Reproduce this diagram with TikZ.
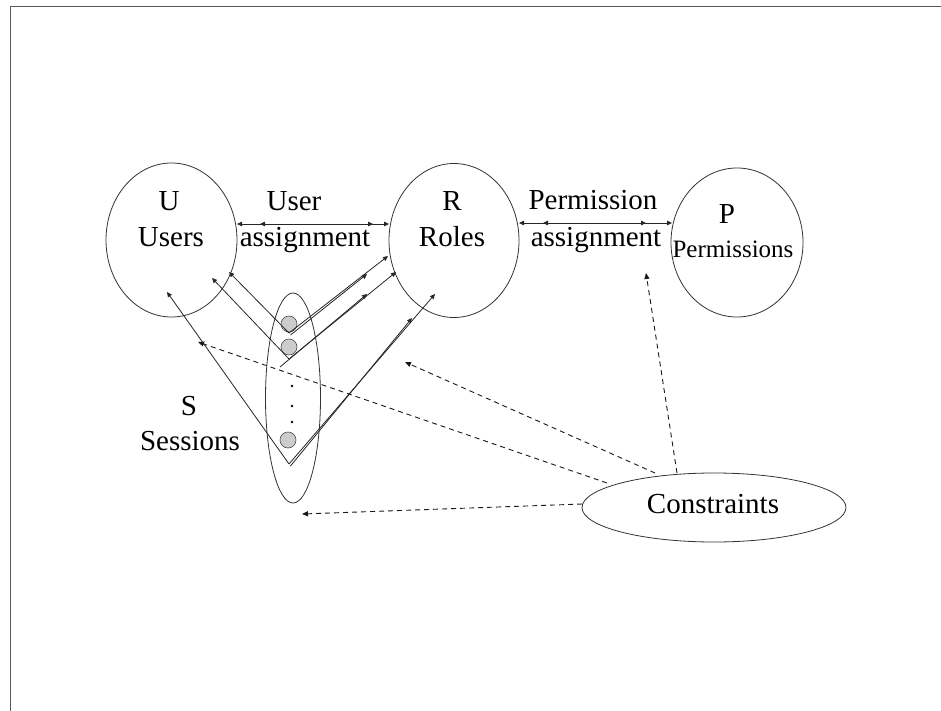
\documentclass[tikz,border=0pt]{standalone}
\usepackage{fontspec}
\setmainfont{Liberation Serif}
\usetikzlibrary{shapes.geometric,arrows.meta}

\tikzset{
  set/.style={draw=black!80, line width=0.8pt, ellipse, inner sep=0pt},
  lbl/.style={inner sep=0pt, anchor=base, font=\fontsize{29}{31}\selectfont},
  small/.style={inner sep=0pt, anchor=base, font=\fontsize{25}{27}\selectfont},
  sess/.style={draw=black!70, fill=black!20, circle, line width=0.6pt, minimum size=16pt, inner sep=0pt},
  link/.style={draw=black!85, line width=0.8pt, -{Triangle[length=5pt,width=4.5pt]}},
  both/.style={link, {Triangle[length=5pt,width=4.5pt]}-{Triangle[length=5pt,width=4.5pt]}},
  cons/.style={draw=black!90, line width=0.9pt, dash pattern=on 5pt off 4pt, -{Triangle[length=6pt,width=5pt]}},
  frame/.style={draw=black!65, line width=1.8pt},
}

\begin{document}
\begin{tikzpicture}[x=1pt,y=-1pt]
\useasboundingbox (0,0) rectangle (941,711);

% slide frame (top and left edges)
\draw[frame] (941,6.5) -- (10.5,6.5) -- (10.5,711);

% the five sets
\node[set, minimum width=131pt, minimum height=154pt] (users) at (171.5,240) {};
\node[set, minimum width=130pt, minimum height=154pt] (roles) at (454,240.5) {};
\node[set, minimum width=132pt, minimum height=149pt] (perms) at (737,242.5) {};
\node[set, minimum width=55pt, minimum height=210pt] (sessions) at (293,398) {};
\node[set, minimum width=264pt, minimum height=69pt] (constraints) at (714,507.5) {};

% labels
\node[lbl] (tU) at (169,211) {U};
\node[lbl] (tUsers) at (171,247) {Users};
\node[lbl] (tR) at (452,211) {R};
\node[lbl] (tRoles) at (452,247) {Roles};
\node[lbl] (tP) at (727,224) {P};
\node[small] (tPerms) at (733,257) {Permissions};
\node[lbl] (tS) at (189,415) {S};
\node[lbl] (tSess) at (190,450) {Sessions};
\node[lbl] (tCons) at (713,513) {Constraints};
\node[lbl] (tUA1) at (294,211) {User};
\node[lbl] (tUA2) at (305,247) {assignment};
\node[lbl] (tPA1) at (593,210) {Permission};
\node[lbl] (tPA2) at (596,247) {assignment};

% session members
\node[sess] (s1) at (289,324) {};
\node[sess] (s2) at (289,347) {};
\node[sess] (s3) at (288,440) {};
\fill (292,386) circle (1.3pt) (292,406) circle (1.3pt) (292,422) circle (1.3pt);

% connector end points
\coordinate (v1) at (289,333);
\coordinate (v2) at (289,359);
\coordinate (v2b) at (280,367);
\coordinate (v3) at (289,464);
\coordinate (ua1) at (237,224);  \coordinate (ua2) at (389,224);
\coordinate (ua3) at (260,224);  \coordinate (ua4) at (373,224);
\coordinate (pa1) at (519,223);  \coordinate (pa2) at (672,223);
\coordinate (pa3) at (543,223);  \coordinate (pa4) at (646,223);
\coordinate (u1) at (229,272);
\coordinate (u2) at (212,278);
\coordinate (u3) at (167,292);
\coordinate (r1a) at (388,256);  \coordinate (r1b) at (367,274);
\coordinate (r2a) at (396,272);  \coordinate (r2b) at (367,294);
\coordinate (r3a) at (435,294);  \coordinate (r3b) at (412,318);
\coordinate (v1o) at (290.5,335);
\coordinate (v3o) at (290.5,466);
\coordinate (c1) at (607,483);   \coordinate (cu) at (198,342);
\coordinate (c2) at (655,473);   \coordinate (cr) at (405,362);
\coordinate (c3) at (582,504);   \coordinate (cs) at (302,514);
\coordinate (c4) at (677,473);   \coordinate (cp) at (646,273);

% user and permission assignment
\draw[both] (ua1) -- (ua2);
\draw[both] (ua3) -- (ua4);
\draw[both] (pa1) -- (pa2);
\draw[both] (pa3) -- (pa4);

% sessions to users
\draw[link] (v1) -- (u1);
\draw[link] (v2) -- (u2);
\draw[link] (v3) -- (u3);

% sessions to roles
\draw[link] (v1) -- (r1a);
\draw[link] (v1o) -- (r1b);
\draw[link] (v2) -- (r2a);
\draw[link] (v2b) -- (r2b);
\draw[link] (v3) -- (r3a);
\draw[link] (v3o) -- (r3b);

% constraints
\draw[cons] (c1) -- (cu);
\draw[cons] (c2) -- (cr);
\draw[cons] (c3) -- (cs);
\draw[cons] (c4) -- (cp);
\end{tikzpicture}
\end{document}
